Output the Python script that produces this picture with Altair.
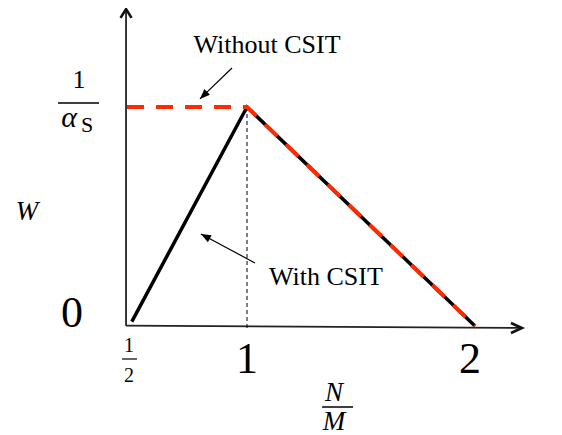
import altair as alt
import pandas as pd

# ---------------- data ----------------
x_ticks = [1, 2]
x_tick_labels = ["1", "2"]
y_zero = 0
y_peak = 1                      # 1/alpha_S level
with_csit_x = [0.52, 1, 2]
with_csit_y = [0.02, 1, 0]
without_csit_x = [0.5, 1, 2]
without_csit_y = [1, 1, 0]
x_axis_x = [0.496, 2.206]
x_axis_y = [0.0014, -0.009]
y_axis_x = [0.496, 0.496]
y_axis_y = [0.0014, 1.447]
guide_x = [1, 1]
guide_y = [1, -0.02]
arrow1_tail = (0.9375, 1.178)
arrow1_tip = (0.804, 1.037)
arrow2_tail = (1.035, 0.288)
arrow2_tip = (0.808, 0.420)
label1_pos = (1.088, 1.247)
label2_pos = (1.346, 0.187)
xlabel_pos = (1.395, 0)
ylabel_pos = (0.5, 0.5)

FONT = "Liberation Serif"
IFONT = "Liberation Serif"
RED = "#ff2a00"

xs = alt.Scale(domain=[0.5, 1, 2], range=[119, 239, 467], nice=False, zero=False)
ys = alt.Scale(domain=[0, 1], range=[318, 99], nice=False, zero=False)


def X(f="x"):
    return alt.X(f"{f}:Q", scale=xs, axis=None)


def Y(f="y"):
    return alt.Y(f"{f}:Q", scale=ys, axis=None)


def pt(x, y):
    return pd.DataFrame({"x": [x], "y": [y]})


def seg(x1, y1, x2, y2):
    return pd.DataFrame({"x": [x1], "y": [y1], "x2": [x2], "y2": [y2]})


layers = []

# axes
layers.append(alt.Chart(seg(y_axis_x[0], y_axis_y[0], y_axis_x[1], y_axis_y[1])).mark_rule(
    color="#222", strokeWidth=1.8).encode(x=X(), y=Y(), x2="x2:Q", y2="y2:Q"))
layers.append(alt.Chart(seg(x_axis_x[0], x_axis_y[0], x_axis_x[1], x_axis_y[1])).mark_rule(
    color="#222", strokeWidth=1.8).encode(x=X(), y=Y(), x2="x2:Q", y2="y2:Q"))
layers.append(alt.Chart(pt(y_axis_x[1], y_axis_y[1])).mark_point(
    shape="M-1,1.6L0,0L1,1.6", filled=False, size=121, strokeWidth=2.6, color="#111",
    opacity=1).encode(x=X(), y=Y()))
layers.append(alt.Chart(pt(x_axis_x[1], x_axis_y[1])).mark_point(
    shape="M-2.2,-1L0,0L-2.2,1", filled=False, size=100, strokeWidth=2.6, color="#111",
    opacity=1).encode(x=X(), y=Y()))

# dashed guide at N/M = 1
layers.append(alt.Chart(seg(guide_x[0], guide_y[0], guide_x[1], guide_y[1])).mark_rule(
    color="black", strokeWidth=1, strokeDash=[4, 3]).encode(x=X(), y=Y(), x2="x2:Q", y2="y2:Q"))

# curves
df_with = pd.DataFrame({"x": with_csit_x, "y": with_csit_y, "i": range(len(with_csit_x))})
df_without = pd.DataFrame({"x": without_csit_x, "y": without_csit_y, "i": range(len(without_csit_x))})
layers.append(alt.Chart(df_with).mark_line(color="black", strokeWidth=3.5).encode(
    x=X(), y=Y(), order="i:O"))
layers.append(alt.Chart(df_without).mark_line(color=RED, strokeWidth=4, strokeDash=[17, 12]).encode(
    x=X(), y=Y(), order="i:O"))

# annotation arrows
for tail, tip, ang in [(arrow1_tail, arrow1_tip, 226), (arrow2_tail, arrow2_tip, 298)]:
    layers.append(alt.Chart(seg(tail[0], tail[1], tip[0], tip[1])).mark_rule(
        color="black", strokeWidth=1.2).encode(x=X(), y=Y(), x2="x2:Q", y2="y2:Q"))
    layers.append(alt.Chart(pt(tip[0], tip[1])).mark_point(
        shape="M0,0L-0.8,2L0.8,2Z", filled=True, size=100, angle=ang, color="black",
        opacity=1).encode(x=X(), y=Y()))

# annotation texts
layers.append(alt.Chart(pt(*label1_pos)).mark_text(
    text="Without CSIT", font=FONT, fontSize=26, align="center", baseline="alphabetic",
    color="black").encode(x=X(), y=Y()))
layers.append(alt.Chart(pt(*label2_pos)).mark_text(
    text="With CSIT", font=FONT, fontSize=26, align="center", baseline="alphabetic",
    color="black").encode(x=X(), y=Y()))

# tick labels
df_ticks = pd.DataFrame({"x": x_ticks, "y": [y_zero] * len(x_ticks), "t": x_tick_labels})
layers.append(alt.Chart(df_ticks.iloc[[0]]).mark_text(
    font=FONT, fontSize=44, align="center", baseline="alphabetic", dy=47, dx=0,
    color="black").encode(x=X(), y=Y(), text="t:N"))
layers.append(alt.Chart(df_ticks.iloc[[1]]).mark_text(
    font=FONT, fontSize=44, align="center", baseline="alphabetic", dy=47, dx=-5,
    color="black").encode(x=X(), y=Y(), text="t:N"))
# 1/2
layers.append(alt.Chart(pt(0.5, y_zero)).mark_text(
    text="1", font=FONT, fontSize=20, align="center", baseline="alphabetic", dx=2, dy=26,
    color="black").encode(x=X(), y=Y()))
layers.append(alt.Chart(pt(0.5, y_zero)).mark_text(
    text="2", font=FONT, fontSize=20, align="center", baseline="alphabetic", dx=2, dy=56,
    color="black").encode(x=X(), y=Y()))
layers.append(alt.Chart(pd.DataFrame({"x": [0.5], "x2": [0.5], "y": [y_zero]})).mark_rule(
    color="black", strokeWidth=1.2, xOffset=-5, x2Offset=10, yOffset=33).encode(
    x=X(), x2="x2:Q", y=Y()))
# y tick "0"
layers.append(alt.Chart(pt(0.5, y_zero)).mark_text(
    text="0", font=FONT, fontSize=44, align="center", baseline="alphabetic", dx=-55, dy=1,
    color="black").encode(x=X(), y=Y()))
# y tick 1/alpha_S
layers.append(alt.Chart(pt(0.5, y_peak)).mark_text(
    text="1", font=FONT, fontSize=26, align="center", baseline="alphabetic", dx=-48, dy=-19,
    color="black").encode(x=X(), y=Y()))
layers.append(alt.Chart(pd.DataFrame({"x": [0.5], "x2": [0.5], "y": [y_peak]})).mark_rule(
    color="black", strokeWidth=1.5, xOffset=-69, x2Offset=-28, yOffset=-4).encode(
    x=X(), x2="x2:Q", y=Y()))
layers.append(alt.Chart(pt(0.5, y_peak)).mark_text(
    text="α", font=IFONT, fontSize=30, fontStyle="italic", align="center", baseline="alphabetic",
    dx=-58, dy=20, color="black").encode(x=X(), y=Y()))
layers.append(alt.Chart(pt(0.5, y_peak)).mark_text(
    text="S", font=FONT, fontSize=22, align="center", baseline="alphabetic",
    dx=-40, dy=25, color="black").encode(x=X(), y=Y()))

# axis titles
layers.append(alt.Chart(pt(*ylabel_pos)).mark_text(
    text="W", font=IFONT, fontSize=27, fontStyle="italic", align="center", baseline="alphabetic",
    dx=-100, dy=3.5, color="black").encode(x=X(), y=Y()))
layers.append(alt.Chart(pt(*xlabel_pos)).mark_text(
    text="N", font=IFONT, fontSize=27, fontStyle="italic", align="center", baseline="alphabetic",
    dx=-3, dy=75, color="black").encode(x=X(), y=Y()))
layers.append(alt.Chart(pd.DataFrame({"x": [xlabel_pos[0]], "x2": [xlabel_pos[0]], "y": [xlabel_pos[1]]})).mark_rule(
    color="black", strokeWidth=1.5, xOffset=-15, x2Offset=16, yOffset=81).encode(
    x=X(), x2="x2:Q", y=Y()))
layers.append(alt.Chart(pt(*xlabel_pos)).mark_text(
    text="M", font=IFONT, fontSize=27, fontStyle="italic", align="center", baseline="alphabetic",
    dx=-3, dy=104, color="black").encode(x=X(), y=Y()))

chart = alt.layer(*layers).properties(
    width=546, height=427, autosize=alt.AutoSizeParams(type="none"), padding=0,
    background="white",
).configure_view(stroke=None)

chart.save("out.html", embed_options={"renderer": "svg", "actions": False})
